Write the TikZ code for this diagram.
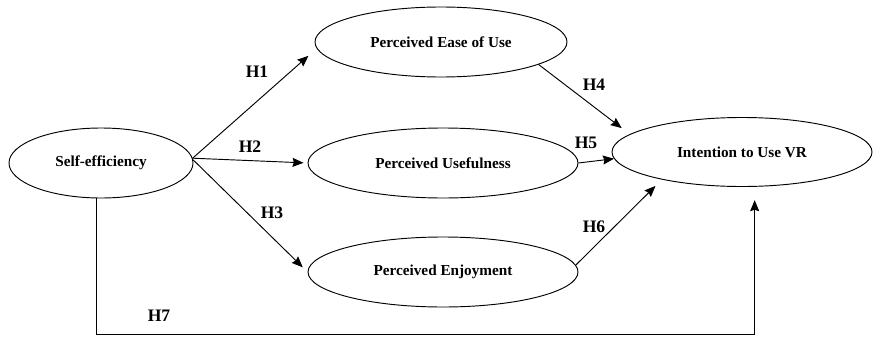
\documentclass[tikz,border=0pt]{standalone}
\usepackage{fontspec}
\setmainfont{Liberation Serif}
\usetikzlibrary{shapes.geometric, positioning, arrows.meta}

\begin{document}
\begin{tikzpicture}[
  x=0.03cm, y=-0.03cm,
  myellipse/.style={
     ellipse,
     draw=black,
     fill=white,
     line width=0.8pt,
     inner sep=0pt,
     minimum height=2.1cm,
     font=\fontsize{13}{15}\selectfont\bfseries},
  mylabel/.style={font=\fontsize{15}{17}\selectfont\bfseries},
  myarrow/.style={line width=0.8pt, -{Stealth[length=0.33cm, width=0.27cm, inset=0.04cm]}}
  ]
  \useasboundingbox (0,0) rectangle (873,337);

  % constructs
  \node[myellipse, minimum width=5.52cm] (self)   at (101,163) {Self-efficiency};
  \node[myellipse, minimum width=7.56cm] (ease)   at (441,42)  {Perceived Ease of Use};
  \node[myellipse, minimum width=8.1cm]  (useful) at (443,163) {Perceived Usefulness};
  \node[myellipse, minimum width=8.1cm]  (enjoy)  at (443,272) {Perceived Enjoyment};
  \node[myellipse, minimum width=7.8cm, minimum height=2.07cm] (intent) at (742,152) {Intention to Use VR};

  % hypotheses
  \node[mylabel] (h1) at (257,72)  {H1};
  \node[mylabel] (h2) at (250,147) {H2};
  \node[mylabel] (h3) at (272,213) {H3};
  \node[mylabel] (h4) at (594,85)  {H4};
  \node[mylabel] (h5) at (586,143) {H5};
  \node[mylabel] (h6) at (594,227) {H6};
  \node[mylabel] (h7) at (159,316) {H7};

% edges
\draw [myarrow, shorten >=0.33cm] (self.3) -- (ease.183);
\draw [myarrow, shorten >=0.12cm] (self.3) -- (useful.west);
\draw [myarrow, shorten >=0.2cm]  (self.2) -- (enjoy.west);
\draw [myarrow, shorten >=0.3cm]  (ease.347) -- (intent.171);
\draw [myarrow] (useful.east) -- (intent.183);
\draw [myarrow, shorten >=0.27cm] (enjoy.3) -- (intent.199);
\draw [myarrow, shorten >=0.4cm]  (self.262) -- ++(0,136) -| (intent.290);

\end{tikzpicture}
\end{document}
